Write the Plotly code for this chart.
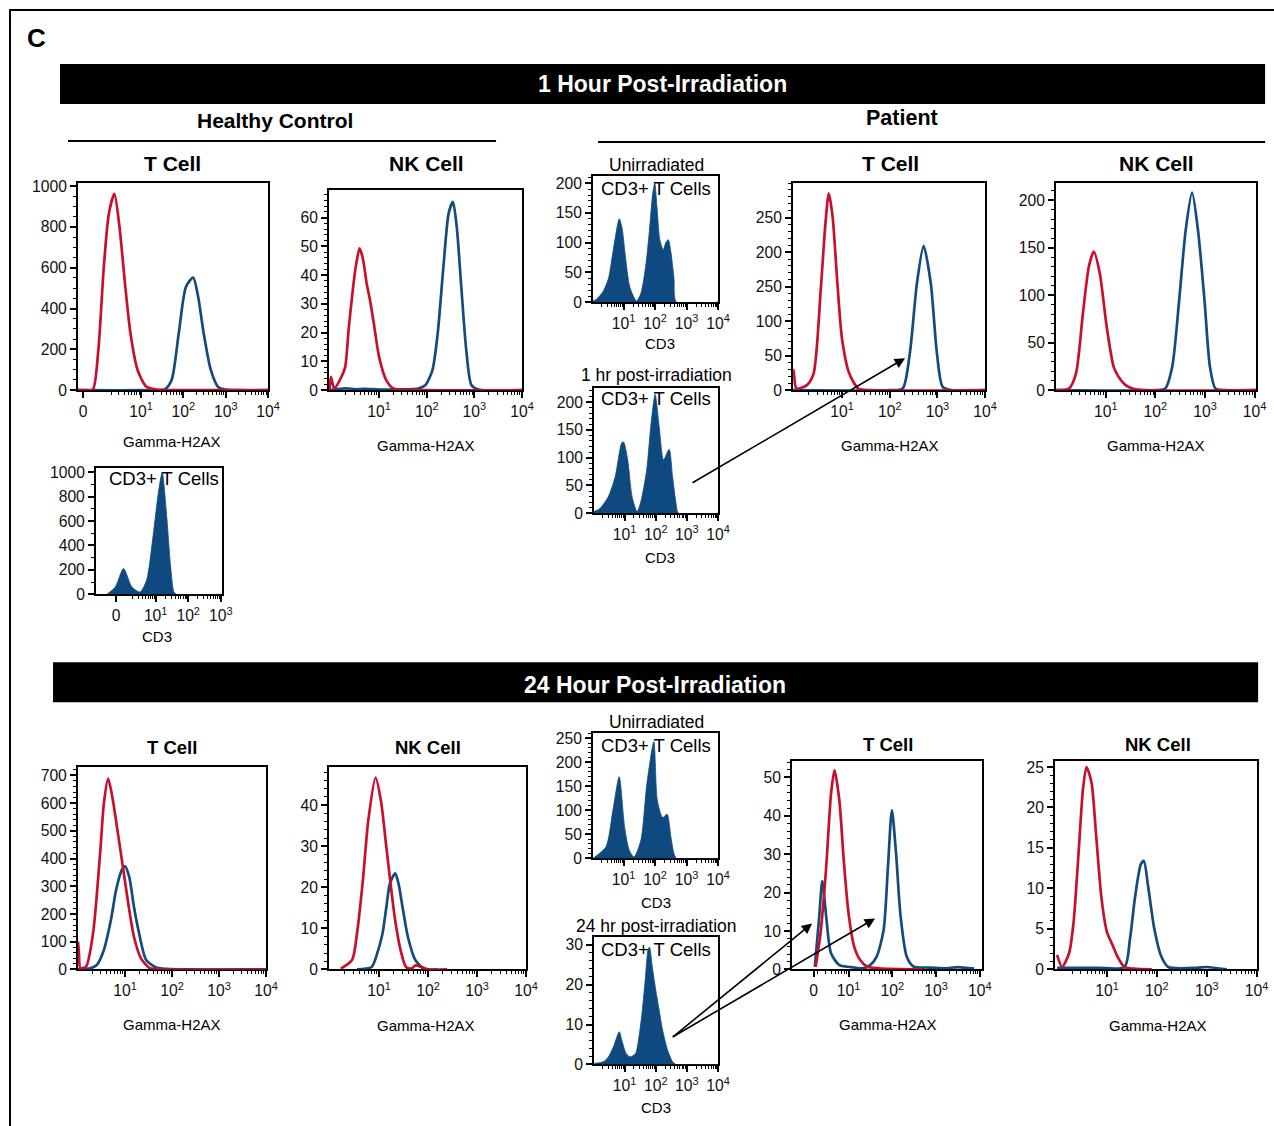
import plotly.graph_objects as go

# ---------------- DATA (x in log10 display units, y = cell counts) ----------------
# 1 h, Healthy control, T cell
hc1_t_red_x = [-0.49, -0.3, -0.14, -0.01, 0.12, 0.24, 0.37, 0.49, 0.62, 0.75, 0.92, 1.13, 1.38, 2.0, 4.0]
hc1_t_red_y = [0, 0, 3, 196, 605, 866, 962, 801, 523, 278, 98, 16, 3, 0, 0]
hc1_t_blue_x = [-0.49, 1.0, 1.55, 1.72, 1.89, 2.06, 2.23, 2.35, 2.48, 2.65, 2.82, 2.99, 3.3, 4.0]
hc1_t_blue_y = [0, 0, 3, 49, 278, 506, 552, 457, 278, 98, 16, 3, 0, 0]
# 1 h, Healthy control, NK cell
hc1_nk_red_x = [-0.04, -0.01, 0.06, 0.21, 0.29, 0.36, 0.44, 0.51, 0.59, 0.66, 0.74, 0.81, 0.89, 1.0, 1.15, 1.30, 2.0, 4.0]
hc1_nk_red_y = [0, 4.6, 0.6, 4.6, 8.1, 20.9, 33.6, 42.9, 49.3, 45.8, 37.1, 31.3, 23.2, 11.6, 3.5, 0.6, 0, 0]
hc1_nk_blue_x = [-0.04, 0.3, 0.5, 0.7, 1.0, 1.5, 1.82, 1.97, 2.12, 2.23, 2.35, 2.46, 2.55, 2.63, 2.72, 2.83, 2.94, 3.09, 4.0]
hc1_nk_blue_y = [0, 0.6, 0.3, 0.5, 0.2, 0.3, 0.6, 1.7, 7, 19.7, 42.9, 61.5, 65.5, 56.8, 37.1, 13.9, 1.7, 0.2, 0]
# Healthy control CD3 gate
hc_cd3_x = [-0.5, -0.24, 0.01, 0.27, 0.52, 0.72, 0.93, 1.08, 1.2, 1.34, 1.46, 1.56, 1.64, 3.0]
hc_cd3_y = [0, 60, 211, 60, 19, 115, 500, 827, 997, 635, 225, 19, 0, 0]
# 1 h, Patient CD3 gates
p1_unirr_cd3_x = [0.03, 0.14, 0.35, 0.52, 0.65, 0.74, 0.86, 0.95, 1.05, 1.2, 1.41, 1.55, 1.7, 1.82, 1.92, 1.99, 2.06, 2.15, 2.26, 2.34, 2.42, 2.5, 2.6, 2.68, 4.0]
p1_unirr_cd3_y = [2, 5, 18, 40, 80, 110, 140, 125, 80, 25, 2, 15, 60, 120, 180, 200, 160, 105, 88, 100, 105, 85, 40, 0, 0]
p1_post_cd3_x = [0.02, 0.2, 0.48, 0.70, 0.91, 0.97, 1.10, 1.24, 1.40, 1.51, 1.71, 1.84, 1.98, 2.11, 2.25, 2.43, 2.54, 2.65, 2.73, 4.0]
p1_post_cd3_y = [3, 8, 30, 66, 127, 128, 96, 30, 3, 18, 78, 156, 214, 156, 96, 115, 66, 18, 0, 0]
# 1 h, Patient T cell
p1_t_red_x = [-0.03, -0.02, 0.04, 0.26, 0.40, 0.55, 0.65, 0.72, 0.80, 0.90, 1.0, 1.15, 1.34, 1.6, 4.0]
p1_t_red_y = [29, 29, 2.4, 7.3, 24, 145, 242, 285, 251, 155, 73, 24, 2.4, 0, 0]
p1_t_blue_x = [-0.03, 2.0, 2.27, 2.42, 2.57, 2.71, 2.86, 2.99, 3.11, 3.3, 4.0]
p1_t_blue_y = [0, 0, 2.4, 53, 155, 209, 155, 53, 4.8, 0, 0]
p1_t_ytext = ["0", "50", "100", "250", "200", "250"]
# 1 h, Patient NK cell
p1_nk_red_x = [0.0, 0.26, 0.40, 0.54, 0.66, 0.76, 0.88, 1.02, 1.16, 1.26, 1.40, 1.54, 1.8, 4.03]
p1_nk_red_y = [0, 1.8, 17.5, 80.7, 130, 146, 123, 66.7, 24.6, 14, 5.3, 1.8, 0, 0]
p1_nk_blue_x = [0.0, 2.0, 2.20, 2.34, 2.48, 2.61, 2.74, 2.86, 2.99, 3.10, 3.21, 3.4, 4.03]
p1_nk_blue_y = [0, 0, 1.8, 24.6, 94.7, 168, 208, 168, 94.7, 24.6, 1.8, 0, 0]
# 24 h, Healthy control T cell
hc24_t_red_x = [0.0, 0.02, 0.05, 0.17, 0.32, 0.47, 0.55, 0.64, 0.73, 0.85, 0.96, 1.08, 1.19, 1.34, 1.53, 1.8, 4.0]
hc24_t_red_y = [100, 60, 5, 10, 130, 418, 598, 688, 622, 490, 364, 226, 118, 40, 4, 0, 0]
hc24_t_blue_x = [0.0, 0.26, 0.40, 0.55, 0.70, 0.81, 0.93, 1.0, 1.09, 1.19, 1.30, 1.45, 1.68, 1.9, 2.3, 4.0]
hc24_t_blue_y = [0, 4, 16, 70, 178, 286, 358, 372, 334, 226, 130, 34, 6, 2, 0, 0]
# 24 h, Healthy control NK cell
hc24_nk_red_x = [0.22, 0.45, 0.55, 0.67, 0.78, 0.93, 1.04, 1.15, 1.26, 1.33, 1.44, 1.55, 1.66, 1.75, 2.0, 2.39]
hc24_nk_red_y = [0.2, 2.3, 8.7, 21.6, 36.2, 46.7, 41, 29.7, 18.4, 11.9, 4.7, 0.6, 0.2, 1.0, 0, 0]
hc24_nk_blue_x = [0.55, 0.85, 0.96, 1.07, 1.15, 1.22, 1.33, 1.40, 1.48, 1.59, 1.74, 1.92, 2.2]
hc24_nk_blue_y = [0, 0.6, 3.8, 8.7, 15.2, 20.8, 23.4, 20.8, 15.2, 7.9, 2.3, 0.2, 0]
# 24 h, Patient CD3 gates
p24_unirr_cd3_x = [0.03, 0.07, 0.44, 0.66, 0.86, 1.03, 1.18, 1.33, 1.55, 1.74, 1.96, 2.07, 2.24, 2.38, 2.52, 2.68, 4.0]
p24_unirr_cd3_y = [0, 2, 24, 100, 170, 66, 17, 3, 38, 156, 243, 121, 85, 92, 38, 0, 0]
p24_post_cd3_x = [0.02, 0.32, 0.48, 0.64, 0.83, 0.91, 1.05, 1.18, 1.35, 1.46, 1.57, 1.67, 1.75, 1.80, 1.89, 2.0, 2.11, 2.22, 2.38, 2.54, 2.65, 4.0]
p24_post_cd3_y = [0.25, 0.7, 1.9, 4.4, 8.2, 6.1, 2.75, 1.9, 2.75, 6.9, 13.6, 21.9, 28.6, 29.4, 24.4, 18.6, 13.6, 8.6, 3.6, 0.7, 0, 0]
# 24 h, Patient T cell
p24_t_blue_x = [0.23, 0.33, 0.40, 0.49, 0.60, 0.79, 1.0, 1.32, 1.48, 1.64, 1.80, 1.90, 1.99, 2.08, 2.19, 2.33, 2.49, 2.8, 3.2, 3.5, 3.87]
p24_t_blue_y = [0.7, 13.7, 23, 13.7, 4.2, 1.1, 0.7, 0.3, 1, 3.3, 10.2, 26.7, 41.5, 31, 13.7, 3.3, 0.7, 0.5, 0.3, 0.6, 0.2]
p24_t_red_x = [0.25, 0.36, 0.49, 0.60, 0.68, 0.79, 0.89, 1.0, 1.13, 1.27, 1.43, 1.7, 2.7]
p24_t_red_y = [0.7, 9.4, 26.7, 45.8, 51.9, 44, 28.5, 14.6, 5.9, 2.4, 0.7, 0.3, 0]
# 24 h, Patient NK cell
p24_nk_red_x = [0.0, 0.1, 0.24, 0.33, 0.43, 0.52, 0.59, 0.69, 0.78, 0.89, 1.0, 1.12, 1.21, 1.35, 1.54, 1.9]
p24_nk_red_y = [1.8, 0.3, 2, 5.8, 14.3, 22.3, 25, 23.1, 16.8, 8.8, 4.6, 2.9, 1.6, 0.3, 0.1, 0]
p24_nk_blue_x = [0.0, 0.8, 1.35, 1.46, 1.56, 1.68, 1.74, 1.82, 1.95, 2.09, 2.23, 2.8, 3.0, 3.4]
p24_nk_blue_y = [0.2, 0.2, 0.3, 3.7, 8.8, 13, 13.4, 10.5, 5, 1.6, 0.3, 0.2, 0.3, 0]

decade_text = ["10<sup>1</sup>", "10<sup>2</sup>", "10<sup>3</sup>", "10<sup>4</sup>"]

# ---------------- STYLE / LAYOUT ----------------
W, H = 1274, 1126
# observed capture mapping correction (rendered = SX*x, SY*y + OY)
SX, SY, OY = 0.9905, 0.988, 5.0
RED = "#C8102E"
BLUE = "#134B7E"
FILL = "#0E4A7F"
SANS = "Liberation Sans, Arial, Helvetica, sans-serif"
TICKFONT = dict(family=SANS, size=15.7, color="#111")


def px(x):
    return (x / SX) / W


def py(y):
    return 1 - ((y - OY) / SY) / H


panels = [
    dict(f=(78, 268, 183, 390), xr=[-0.49, 4.0], yr=[0, 1015], yt=list(range(0, 1001, 200)), my=50,
         xt=[-0.37, 1, 2, 3, 4], xtt=["0"] + decade_text,
         curves=[(hc1_t_blue_x, hc1_t_blue_y, BLUE), (hc1_t_red_x, hc1_t_red_y, RED)]),
    dict(f=(329, 522, 190, 390), xr=[-0.05, 4.0], yr=[0, 69.6], yt=list(range(0, 61, 10)), my=2,
         xt=[1, 2, 3, 4], xtt=decade_text,
         curves=[(hc1_nk_blue_x, hc1_nk_blue_y, BLUE), (hc1_nk_red_x, hc1_nk_red_y, RED)]),
    dict(f=(593, 718, 176, 302), xr=[0.03, 4.0], yr=[0, 211.8], yt=list(range(0, 201, 50)), my=10,
         xt=[1, 2, 3, 4], xtt=decade_text, fill=(p1_unirr_cd3_x, p1_unirr_cd3_y)),
    dict(f=(594, 718, 388, 513), xr=[0.02, 4.0], yr=[0, 225], yt=list(range(0, 201, 50)), my=10,
         xt=[1, 2, 3, 4], xtt=decade_text, fill=(p1_post_cd3_x, p1_post_cd3_y)),
    dict(f=(793, 985, 183, 390), xr=[-0.03, 4.0], yr=[0, 300], yt=list(range(0, 251, 50)), ytt=p1_t_ytext, my=10,
         xt=[1, 2, 3, 4], xtt=decade_text,
         curves=[(p1_t_blue_x, p1_t_blue_y, BLUE), (p1_t_red_x, p1_t_red_y, RED)]),
    dict(f=(1056, 1256, 183, 390), xr=[0.0, 4.03], yr=[0, 218], yt=list(range(0, 201, 50)), my=10,
         xt=[1, 2, 3, 4], xtt=decade_text,
         curves=[(p1_nk_blue_x, p1_nk_blue_y, BLUE), (p1_nk_red_x, p1_nk_red_y, RED)]),
    dict(f=(96, 222, 468, 594), xr=[-0.835, 3.04], yr=[0, 1033], yt=list(range(0, 1001, 200)), my=100,
         xt=[-0.22, 1, 2, 3], xtt=["0"] + decade_text[:3], fill=(hc_cd3_x, hc_cd3_y)),
    dict(f=(78, 266, 767, 969), xr=[0.0, 4.0], yr=[0, 729], yt=list(range(0, 701, 100)), my=20,
         xt=[1, 2, 3, 4], xtt=decade_text,
         curves=[(hc24_t_blue_x, hc24_t_blue_y, BLUE), (hc24_t_red_x, hc24_t_red_y, RED)]),
    dict(f=(329, 526, 767, 969), xr=[-0.02, 4.0], yr=[0, 49.2], yt=list(range(0, 41, 10)), my=2,
         xt=[1, 2, 3, 4], xtt=decade_text,
         curves=[(hc24_nk_blue_x, hc24_nk_blue_y, BLUE), (hc24_nk_red_x, hc24_nk_red_y, RED)]),
    dict(f=(593, 718, 733, 858), xr=[0.03, 4.0], yr=[0, 260.4], yt=list(range(0, 251, 50)), my=10,
         xt=[1, 2, 3, 4], xtt=decade_text, fill=(p24_unirr_cd3_x, p24_unirr_cd3_y)),
    dict(f=(594, 718, 937, 1064), xr=[0.02, 4.0], yr=[0, 31.8], yt=list(range(0, 31, 10)), my=2,
         xt=[1, 2, 3, 4], xtt=decade_text, fill=(p24_post_cd3_x, p24_post_cd3_y)),
    dict(f=(792, 982, 761, 969), xr=[-0.29, 4.05], yr=[0, 54.2], yt=list(range(0, 51, 10)), my=2,
         xt=[0.2, 1, 2, 3, 4], xtt=["0"] + decade_text,
         curves=[(p24_t_blue_x, p24_t_blue_y, BLUE), (p24_t_red_x, p24_t_red_y, RED)]),
    dict(f=(1055, 1257, 761, 969), xr=[-0.04, 4.01], yr=[0, 25.7], yt=list(range(0, 26, 5)), my=1,
         xt=[1, 2, 3, 4], xtt=decade_text,
         curves=[(p24_nk_blue_x, p24_nk_blue_y, BLUE), (p24_nk_red_x, p24_nk_red_y, RED)]),
]

minor_x = [k + m for k in range(-1, 4) for m in [0.301, 0.477, 0.602, 0.699, 0.778, 0.845, 0.903, 0.954]]

fig = go.Figure()
layout = dict(width=W, height=H, margin=dict(l=0, r=0, t=0, b=0), autosize=False,
              paper_bgcolor="white", plot_bgcolor="white", showlegend=False)

for i, p in enumerate(panels, start=1):
    xa = "x" if i == 1 else f"x{i}"
    ya = "y" if i == 1 else f"y{i}"
    l, r, t, b = p["f"]
    if "fill" in p:
        fx, fy = p["fill"]
        fig.add_trace(go.Scatter(x=fx, y=fy, xaxis=xa, yaxis=ya, mode="lines", fill="tozeroy",
                                 fillcolor=FILL, line=dict(color=FILL, width=0.8, shape="spline", smoothing=0.7),
                                 hoverinfo="skip"))
    for cx, cy, col in p.get("curves", []):
        fig.add_trace(go.Scatter(x=cx, y=cy, xaxis=xa, yaxis=ya, mode="lines",
                                 line=dict(color=col, width=2.7, shape="spline", smoothing=0.7),
                                 hoverinfo="skip"))
    xmin = [v for v in minor_x if p["xr"][0] < v < p["xr"][1] and v > 0]
    layout["xaxis" if i == 1 else f"xaxis{i}"] = dict(
        domain=[px(l), min(px(r), 1.0)], range=p["xr"], anchor=ya, showgrid=False, zeroline=False,
        showline=True, linecolor="black", linewidth=2, mirror=True, layer="below traces",
        ticks="outside", ticklen=6, tickwidth=1.5, tickcolor="black",
        tickmode="array", tickvals=p["xt"], ticktext=p["xtt"], tickfont=TICKFONT,
        minor=dict(tickmode="array", tickvals=xmin, ticks="outside", ticklen=3, tickwidth=1, tickcolor="black"),
        fixedrange=True)
    layout["yaxis" if i == 1 else f"yaxis{i}"] = dict(
        domain=[py(b), py(t)], range=p["yr"], anchor=xa, showgrid=False, zeroline=False,
        showline=True, linecolor="black", linewidth=2, mirror=True, layer="below traces",
        ticks="outside", ticklen=6, tickwidth=1.5, tickcolor="black",
        tickmode="array", tickvals=p["yt"], ticktext=p.get("ytt", [str(v) for v in p["yt"]]),
        tickfont=TICKFONT,
        minor=dict(dtick=p["my"], tick0=0, ticks="outside", ticklen=3, tickwidth=1, tickcolor="black"),
        fixedrange=True)

shapes = [
    dict(type="rect", xref="paper", yref="paper", x0=px(10), x1=1.05, y0=-0.05, y1=py(10),
         line=dict(color="black", width=2), fillcolor="rgba(0,0,0,0)"),
    dict(type="rect", xref="paper", yref="paper", x0=px(60), x1=px(1265), y0=py(104), y1=py(64),
         line=dict(width=0), fillcolor="black"),
    dict(type="rect", xref="paper", yref="paper", x0=px(53), x1=px(1258), y0=py(702), y1=py(662),
         line=dict(width=0), fillcolor="black"),
    dict(type="line", xref="paper", yref="paper", x0=px(68), x1=px(496), y0=py(141), y1=py(141),
         line=dict(color="black", width=2)),
    dict(type="line", xref="paper", yref="paper", x0=px(598), x1=px(1265), y0=py(142), y1=py(142),
         line=dict(color="black", width=2)),
]
layout["shapes"] = shapes

ann = []


def txt(x, y, s, size, bold=False, color="black"):
    ann.append(dict(x=px(x), y=py(y), xref="paper", yref="paper", text=(f"<b>{s}</b>" if bold else s),
                    showarrow=False, xanchor="center", yanchor="middle",
                    font=dict(family=SANS, size=size, color=color)))


txt(36, 38, "C", 26, bold=True)
txt(662, 84, "1 Hour Post-Irradiation", 23, bold=True, color="white")
txt(655, 685, "24 Hour Post-Irradiation", 23, bold=True, color="white")
txt(275, 120, "Healthy Control", 21, bold=True)
txt(902, 118, "Patient", 21.5, bold=True)
for (x, y, s) in [(172, 163, "T Cell"), (426, 163, "NK Cell"), (890, 163, "T Cell"), (1156, 163, "NK Cell")]:
    txt(x, y, s, 21, bold=True)
for (x, y, s) in [(172, 747, "T Cell"), (428, 747, "NK Cell"), (888, 744, "T Cell"), (1158, 744, "NK Cell")]:
    txt(x, y, s, 18.5, bold=True)
for (x, y, s) in [(656, 165, "Unirradiated"), (656, 375, "1 hr post-irradiation"),
                  (656, 722, "Unirradiated"), (656, 926, "24 hr post-irradiation")]:
    txt(x, y, s, 17.5)
for (x, y) in [(656, 188), (656, 398), (164, 478), (656, 745), (656, 949)]:
    txt(x, y, "CD3+ T Cells", 18.5)
for (x, y) in [(172, 441), (426, 445), (890, 445), (1156, 445), (172, 1024), (426, 1025), (888, 1024), (1158, 1025)]:
    txt(x, y, "Gamma-H2AX", 15)
for (x, y) in [(660, 343), (660, 557), (157, 636), (656, 902), (656, 1107)]:
    txt(x, y, "CD3", 15)

for (tx, ty, hx, hy) in [(693, 482, 905, 358), (673, 1036, 812, 923), (673, 1036, 875, 918)]:
    ann.append(dict(x=px(hx), y=py(hy), xref="paper", yref="paper", ax=(tx - hx) / SX, ay=(ty - hy) / SY,
                    axref="pixel", ayref="pixel", text="", showarrow=True, arrowhead=2,
                    arrowsize=1.3, arrowwidth=1.6, arrowcolor="black"))
layout["annotations"] = ann

fig.update_layout(**layout)
post = ("document.documentElement.style.margin='0';document.documentElement.style.padding='0';"
        "document.documentElement.style.overflow='hidden';"
        "document.body.style.margin='0';document.body.style.padding='0';document.body.style.overflow='hidden';"
        "var gd=document.getElementById('{plot_id}');gd.style.position='absolute';"
        "gd.style.left='0px';gd.style.top='0px';")
fig.write_html("out.html", post_script=post, config={"displayModeBar": False})
